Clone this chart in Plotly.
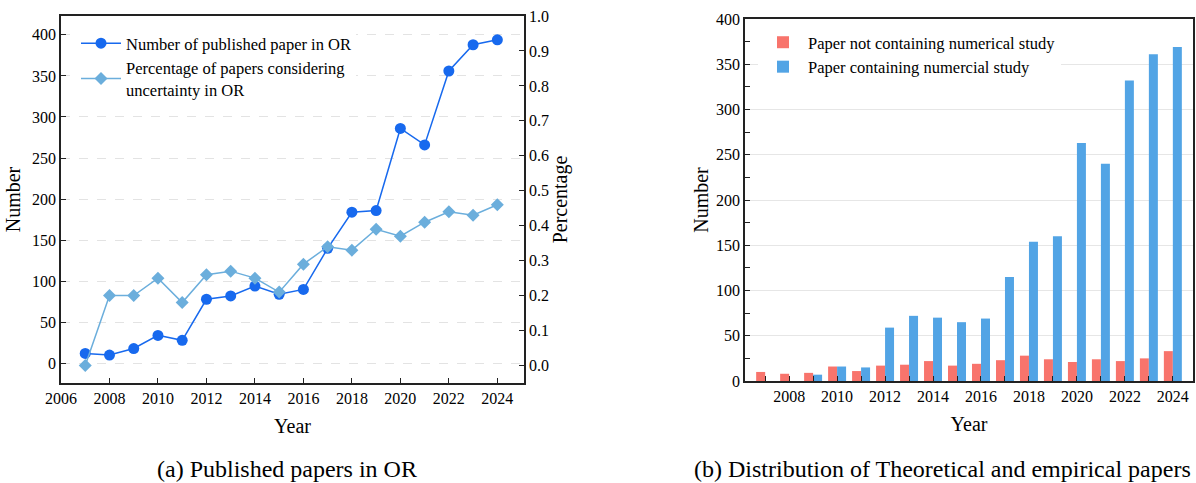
import plotly.graph_objects as go

years = list(range(2007, 2025))
num_published = [12, 10, 18, 34, 28, 78, 82, 94, 84, 90, 140, 184, 186, 286, 266, 356, 388, 394]
pct_uncertainty = [0.00, 0.20, 0.20, 0.25, 0.18, 0.26, 0.27, 0.25, 0.21, 0.29, 0.34, 0.33, 0.39, 0.37, 0.41, 0.44, 0.43, 0.46]
not_numerical = [10, 8, 9, 16, 11, 17, 18, 22, 17, 19, 23, 28, 24, 21, 24, 22, 25, 33]
with_numerical = [0, 0, 7, 16, 15, 59, 72, 70, 65, 69, 115, 154, 160, 263, 240, 332, 361, 369]

FONT = "Liberation Serif"
W, H = 1196, 483

def px_x(p):
    return p / W

def px_y(p):
    return 1 - p / H

fig = go.Figure()

fig.add_trace(go.Scatter(
    x=years, y=num_published, mode="lines+markers",
    name="Number of published paper in OR",
    line=dict(color="#1769EE", width=1.5),
    marker=dict(symbol="circle", size=11, color="#1769EE"),
    xaxis="x", yaxis="y", legend="legend",
))
fig.add_trace(go.Scatter(
    x=years, y=pct_uncertainty, mode="lines+markers",
    name="Percentage of papers considering<br>uncertainty in OR",
    line=dict(color="#6BAEDC", width=1.5),
    marker=dict(symbol="diamond", size=10, color="#6BAEDC"),
    xaxis="x", yaxis="y2", legend="legend",
))

fig.add_trace(go.Bar(
    x=years, y=not_numerical, name="Paper not containing numerical study",
    marker=dict(color="#F8746C", line=dict(width=0)),
    xaxis="x3", yaxis="y3", legend="legend2",
))
fig.add_trace(go.Bar(
    x=years, y=with_numerical, name="Paper containing numercial study",
    marker=dict(color="#52A4E5", line=dict(width=0)),
    xaxis="x3", yaxis="y3", legend="legend2",
))

tickfont = dict(family=FONT, size=16, color="black")
titlefont = dict(family=FONT, size=20, color="black")

axis_common = dict(
    showline=True, linecolor="#222", linewidth=1.5,
    ticks="inside", ticklen=5, tickcolor="#222", tickwidth=1,
    tickfont=tickfont, zeroline=False, automargin=False,
)

fig.update_layout(
    width=W, height=H,
    margin=dict(l=0, r=0, t=0, b=0, autoexpand=False),
    paper_bgcolor="white", plot_bgcolor="white",
    font=dict(family=FONT, color="black"),
    barmode="group", bargap=0.25, bargroupgap=0,
    xaxis=dict(
        domain=[px_x(61), px_x(524)], anchor="y",
        range=[2006, 2025.1], tick0=2006, dtick=2,
        mirror=True, showgrid=False,
        title=dict(text="Year", font=titlefont, standoff=13),
        **axis_common,
    ),
    yaxis=dict(
        domain=[px_y(383), px_y(16)], anchor="x",
        range=[-24, 423], tick0=0, dtick=50,
        showgrid=True, gridcolor="#E3E3E3", griddash="dash", gridwidth=1,
        title=dict(text="Number", font=titlefont, standoff=6),
        **axis_common,
    ),
    yaxis2=dict(
        overlaying="y", side="right", anchor="x",
        range=[-0.05, 1.0], tick0=0, dtick=0.1, tickformat=".1f",
        showgrid=False,
        title=dict(text="Percentage", font=titlefont, standoff=4),
        **axis_common,
    ),
    xaxis3=dict(
        domain=[px_x(745), px_x(1193)], anchor="y3",
        range=[2006.16, 2024.84], tick0=2008, dtick=2,
        mirror=True, showgrid=False,
        minor=dict(dtick=1, tick0=2007, ticks="inside", ticklen=5, tickcolor="#222", showgrid=False),
        title=dict(text="Year", font=titlefont, standoff=13),
        **axis_common,
    ),
    yaxis3=dict(
        domain=[px_y(381), px_y(19)], anchor="x3",
        range=[0, 400], tick0=0, dtick=50,
        mirror=True,
        showgrid=True, gridcolor="#E6E6E6", gridwidth=1,
        minor=dict(dtick=25, ticks="inside", ticklen=5, tickcolor="#222", showgrid=False),
        title=dict(text="Number", font=titlefont, standoff=2),
        **axis_common,
    ),
    legend=dict(
        x=px_x(76), y=px_y(26), xanchor="left", yanchor="top",
        bgcolor="white", borderwidth=0,
        font=dict(family=FONT, size=16.5, color="black"),
        tracegroupgap=0, itemwidth=40,
    ),
    legend2=dict(
        x=px_x(758), y=px_y(25), xanchor="left", yanchor="top",
        bgcolor="white", borderwidth=0,
        font=dict(family=FONT, size=16.5, color="black"),
        itemwidth=40,
    ),
    annotations=[
        dict(text="(a) Published papers in OR", x=px_x(287), y=px_y(469),
             xref="paper", yref="paper", xanchor="center", yanchor="middle", showarrow=False,
             font=dict(family=FONT, size=24, color="black")),
        dict(text="(b) Distribution of Theoretical and empirical papers", x=px_x(942), y=px_y(469),
             xref="paper", yref="paper", xanchor="center", yanchor="middle", showarrow=False,
             font=dict(family=FONT, size=24, color="black")),
    ],
)

fig.write_html(
    "out.html",
    config={"displayModeBar": False},
    post_script="document.body.style.margin='0';document.body.style.overflow='hidden';",
)
